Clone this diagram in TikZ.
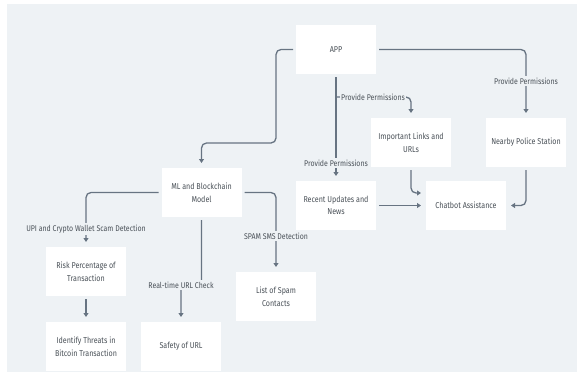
\documentclass[tikz,border=0pt]{standalone}
\usepackage{fontspec}
\setmainfont{Fira Sans}[FakeStretch=0.84]
\usetikzlibrary{arrows.meta}
\definecolor{bgc}{HTML}{EEF2F5}
\definecolor{linec}{HTML}{677482}
\definecolor{txtc}{HTML}{4A5158}
\tikzset{
  box/.style={fill=white, minimum width=80pt, minimum height=49pt, align=center,
    inner sep=2pt, outer sep=3pt, text=txtc, font=\fontsize{8.5}{12.5}\selectfont},
  conn/.style={draw=linec, line width=1.3pt, rounded corners=5pt,
    -{Triangle[length=4pt,width=5pt]}, shorten >=2pt},
  lbl/.style={fill=bgc, text=txtc, inner sep=1.5pt, font=\fontsize{8.3}{9}\selectfont}
}
\begin{document}
\begin{tikzpicture}[x=1pt,y=-1pt]
\useasboundingbox (0,0) rectangle (577,372);
\fill[white] (0,0) rectangle (577,372);
\fill[bgc] (7,4) rectangle (577,372);

% boxes
\node[box] (app) at (336,49.5) {APP};
\node[box] (ml) at (201.5,192.5) {ML and Blockchain\\Model};
\node[box] (links) at (411,142.5) {Important Links and\\URLs};
\node[box] (police) at (526,142.5) {Nearby Police Station};
\node[box] (recent) at (336,205.5) {Recent Updates and\\News};
\node[box] (chat) at (466,205.5) {Chatbot Assistance};
\node[box] (risk) at (86,271.5) {Risk Percentage of\\Transaction};
\node[box] (threat) at (86,346.5) {Identify Threats in\\Bitcoin Transaction};
\node[box] (safety) at (181,346.5) {Safety of URL};
\node[box] (spam) at (276,296.5) {List of Spam\\Contacts};

% helper coordinates
\coordinate (c1) at (276,143);
\coordinate (b1) at (336,97);
\coordinate (c2) at (201.5,285);

% connectors
\draw[conn] (app.west) -| (c1) -| (ml.north);
\draw[conn] (app.east) -| (police.north);
\node[lbl] (l1) at (526,81) {Provide Permissions};
\draw[conn] (app.south) -- (recent.north);
\node[lbl] (l2) at (336,163) {Provide Permissions};
\draw[conn] (b1) -| (links.north);
\node[lbl] (l3) at (373,97) {Provide Permissions};
\draw[conn] (recent.east) -- (chat.west);
\draw[conn] (links.south) |- ([yshift=12.5pt]chat.west);
\draw[conn] (police.south) |- (chat.east);
\draw[conn] (ml.west) -| (risk.north);
\node[lbl] (l4) at (86,229) {UPI and Crypto Wallet Scam Detection};
\draw[conn] (ml.east) -| (spam.north);
\node[lbl] (l5) at (276,236) {SPAM SMS Detection};
\draw[conn] (ml.south) -- (c2) -| (safety.north);
\node[lbl] (l6) at (181,285) {Real-time URL Check};
\draw[conn] (risk.south) -- (threat.north);
\end{tikzpicture}
\end{document}
